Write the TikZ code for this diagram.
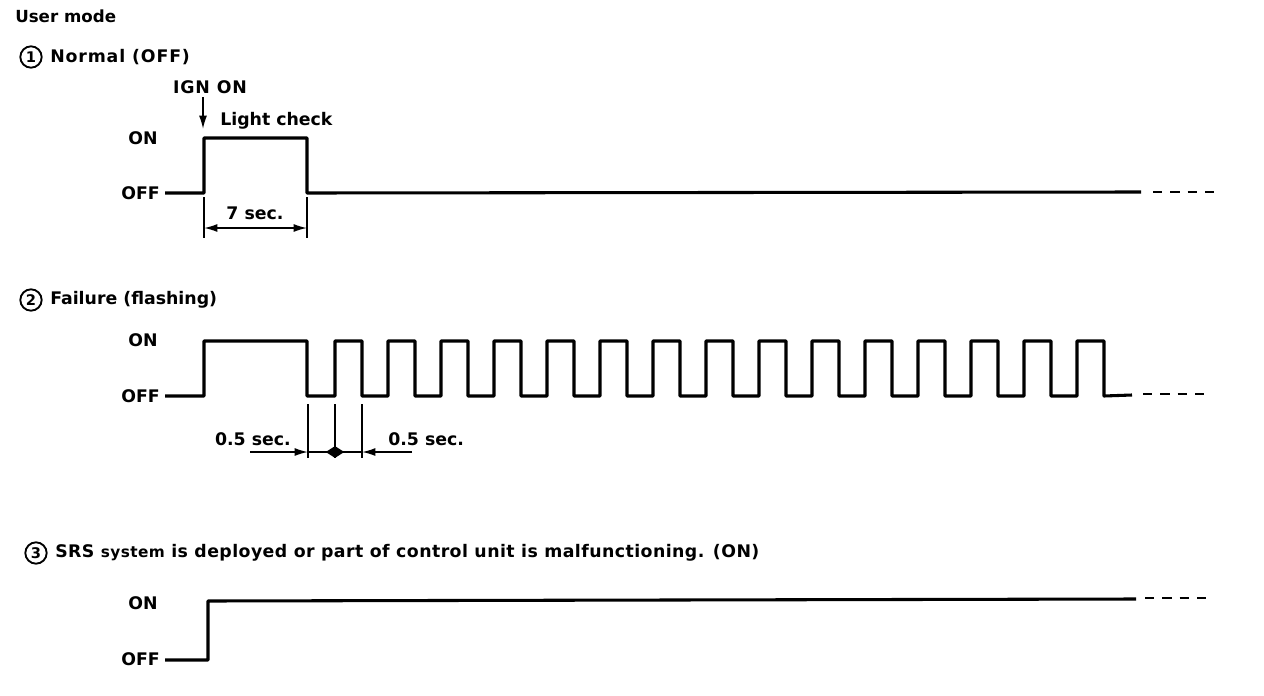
\documentclass[tikz,border=0pt]{standalone}
\usepackage{fontspec}
\setmainfont{DejaVu Sans}
\newfontfamily\widefont[LetterSpace=5]{DejaVu Sans}
\newfontfamily\midfont[LetterSpace=2.5]{DejaVu Sans}
\usetikzlibrary{arrows.meta,shapes.geometric}
\begin{document}
\begin{tikzpicture}[x=0.75pt,y=-0.75pt,
  lbl/.style={font=\fontsize{13}{15}\selectfont\bfseries, inner sep=0pt},
  num/.style={circle, draw, line width=1.4pt, minimum size=16pt, inner sep=0pt, font=\fontsize{11}{12}\selectfont\bfseries},
  wave/.style={line width=2.3pt, line join=round},
  dim/.style={line width=1.2pt},
  tail/.style={line width=2pt, dash pattern=on 7pt off 6pt},
  tip/.style={-{Latex[length=10pt,width=6pt]}}
]
\useasboundingbox (0,0) rectangle (1264,696);

% title
\node[lbl, anchor=west, font=\fontsize{12.5}{14}\selectfont\bfseries] (title) at (15,16) {User mode};

% ---------- section 1 ----------
\node[num] (n1) at (31,57) {1};
\node[lbl, anchor=west] (t1) at (50,57) {\widefont\bfseries Normal (OFF)};
\node[lbl] (ign) at (210,87) {\widefont\bfseries IGN ON};
\node[lbl, anchor=west] (lc) at (220,121) {Light check};
\node[lbl, anchor=east] (on1) at (158,138) {ON};
\node[lbl, anchor=east] (off1) at (160,193) {OFF};
\coordinate (w1s) at (165,193);
\coordinate (w1r) at (204,193);
\coordinate (w1f) at (307,193);
\coordinate (w1e) at (1141,192);
\draw[wave] (w1s) -- (w1r) -- (204,138) -- (307,138) -- (w1f) -- (w1e);
\coordinate (d1a) at (1153,192);
\coordinate (d1b) at (1215,192);
\draw[tail] (d1a) -- (d1b);
\coordinate (ia) at (203,97);
\coordinate (ib) at (203,129);
\draw[dim, tip] (ia) -- (ib);
% 7 sec dimension
\draw[dim] (204,197) -- (204,238);
\draw[dim] (307,197) -- (307,238);
\coordinate (s7a) at (204,228);
\coordinate (s7b) at (307,228);
\draw[dim, {Latex[length=10pt,width=6pt]}-{Latex[length=10pt,width=6pt]}] (s7a) -- (s7b);
\node[lbl] (sec7) at (255,213) {7 sec.};

% ---------- section 2 ----------
\node[num] (n2) at (31,300) {2};
\node[lbl, anchor=west] (t2) at (50,300) {Failure (flashing)};
\node[lbl, anchor=east] (on2) at (158,340) {ON};
\node[lbl, anchor=east] (off2) at (160,396) {OFF};
\draw[wave] (165,396) -- (204,396) -- (204,341) -- (307,341) -- (307,396)
  \foreach \k in {0,...,14}{ -- ({335+53*\k},396) -- ({335+53*\k},341) -- ({362+53*\k},341) -- ({362+53*\k},396)}
  -- (1132,395);
\coordinate (d2a) at (1143,394);
\coordinate (d2b) at (1208,394);
\draw[tail] (d2a) -- (d2b);
% 0.5 sec dimensions
\draw[dim] (308,404) -- (308,458);
\draw[dim] (335,404) -- (335,458);
\draw[dim] (362,404) -- (362,458);
\coordinate (h0) at (250,452);
\coordinate (h1) at (308,452);
\coordinate (h2) at (362,452);
\coordinate (h3) at (412,452);
\draw[dim] (h1) -- (h2);
\draw[dim, tip] (h0) -- (h1);
\draw[dim, tip] (h3) -- (h2);
\node[diamond, fill, inner sep=0pt, minimum width=14pt, minimum height=9pt, aspect=1.6] (mid) at (335,452) {};
\node[lbl, anchor=east] (hs1) at (291,439) {0.5 sec.};
\node[lbl, anchor=west] (hs2) at (388,439) {0.5 sec.};

% ---------- section 3 ----------
\node[num] (n3) at (36,553) {3};
\node[lbl, anchor=west] (t3) at (55,553) {\midfont\bfseries SRS {\fontsize{11.5}{13}\selectfont system} is deployed or part of control unit is malfunctioning. (ON)};
\node[lbl, anchor=east] (on3) at (158,603) {ON};
\node[lbl, anchor=east] (off3) at (160,659) {OFF};
\draw[wave] (165,660) -- (208,660) -- (208,601) -- (1136,599);
\coordinate (d3a) at (1145,598);
\coordinate (d3b) at (1210,598);
\draw[tail] (d3a) -- (d3b);
\end{tikzpicture}
\end{document}
